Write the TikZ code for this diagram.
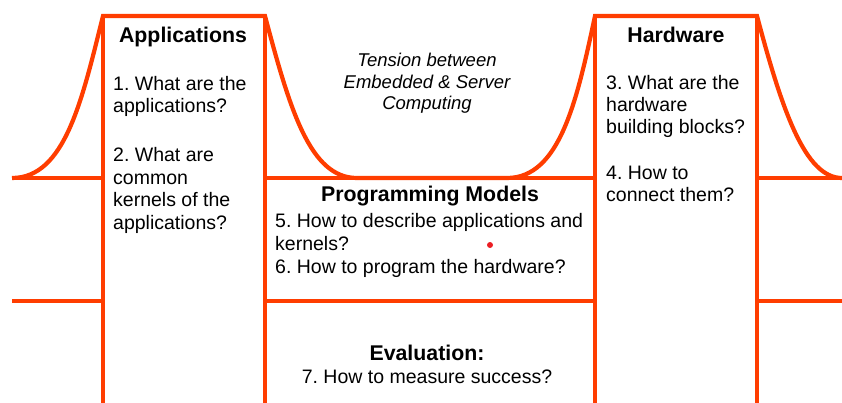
\documentclass[tikz,border=0pt]{standalone}
\usepackage{fontspec}
\setmainfont{Liberation Sans}
\definecolor{org}{RGB}{255,61,0}
\definecolor{dotred}{RGB}{235,30,35}
\begin{document}
\frenchspacing
\begin{tikzpicture}[x=1pt,y=-1pt,
  ln/.style={draw=org,line width=4.2pt},
  body/.style={inner sep=0pt,font=\fontsize{19.5}{22.5}\selectfont,anchor=base west},
  title/.style={inner sep=0pt,font=\fontsize{21.3}{24}\selectfont\bfseries,anchor=base},
  tens/.style={inner sep=0pt,font=\fontsize{18.5}{21.5}\selectfont\itshape,anchor=base},
  evl/.style={inner sep=0pt,font=\fontsize{19.5}{22.5}\selectfont,anchor=base}]
\useasboundingbox (0,0) rectangle (842,403);
% outline with bell curves
\draw[ln] (12,178) .. controls (65,178) and (82,100) .. (103,16) -- (265,16)
  .. controls (290,110) and (310,178) .. (357,178) -- (507,178)
  .. controls (560,178) and (577,100) .. (595,16) -- (757,16)
  .. controls (782,110) and (805,178) .. (842,178);
% columns
\draw[ln] (103,16) -- (103,403);
\draw[ln] (265,16) -- (265,403);
\draw[ln] (595,16) -- (595,403);
\draw[ln] (757,16) -- (757,403);
% horizontal levels
\draw[ln] (12,178) -- (103,178);
\draw[ln] (265,178) -- (595,178);
\draw[ln] (757,178) -- (842,178);
\draw[ln] (12,301) -- (103,301);
\draw[ln] (265,301) -- (595,301);
\draw[ln] (757,301) -- (842,301);
% Applications
\node[title] (apt) at (183,43) {Applications};
\node[body] (a1) at (113,90.5) {1. What are the};
\node[body] (a2) at (113,113) {applications?};
\node[body] (a3) at (113,162) {2. What are};
\node[body] (a4) at (113,184.5) {common};
\node[body] (a5) at (113,207) {kernels of the};
\node[body] (a6) at (113,229.5) {applications?};
% Tension
\node[tens] (t1) at (427,67) {Tension between};
\node[tens] (t2) at (427,88.5) {Embedded \& Server};
\node[tens] (t3) at (427,110) {Computing};
% Hardware
\node[title] (hwt) at (676,43) {Hardware};
\node[body] (h1) at (606,90) {3. What are the};
\node[body] (h2) at (606,112) {hardware};
\node[body] (h3) at (606,134) {building blocks?};
\node[body] (h4) at (606,180) {4. How to};
\node[body] (h5) at (606,202) {connect them?};
% Programming models
\node[title] (pmt) at (430,202) {Programming Models};
\node[body] (p1) at (275,228) {5. How to describe applications and};
\node[body] (p2) at (275,250) {kernels?};
\node[body] (p3) at (275,273) {6. How to program the hardware?};
\fill[dotred] (490,245) circle (3pt);
% Evaluation
\node[title] (evt) at (427,360) {Evaluation:};
\node[evl] (e1) at (427,383) {7. How to measure success?};
\end{tikzpicture}
\end{document}
